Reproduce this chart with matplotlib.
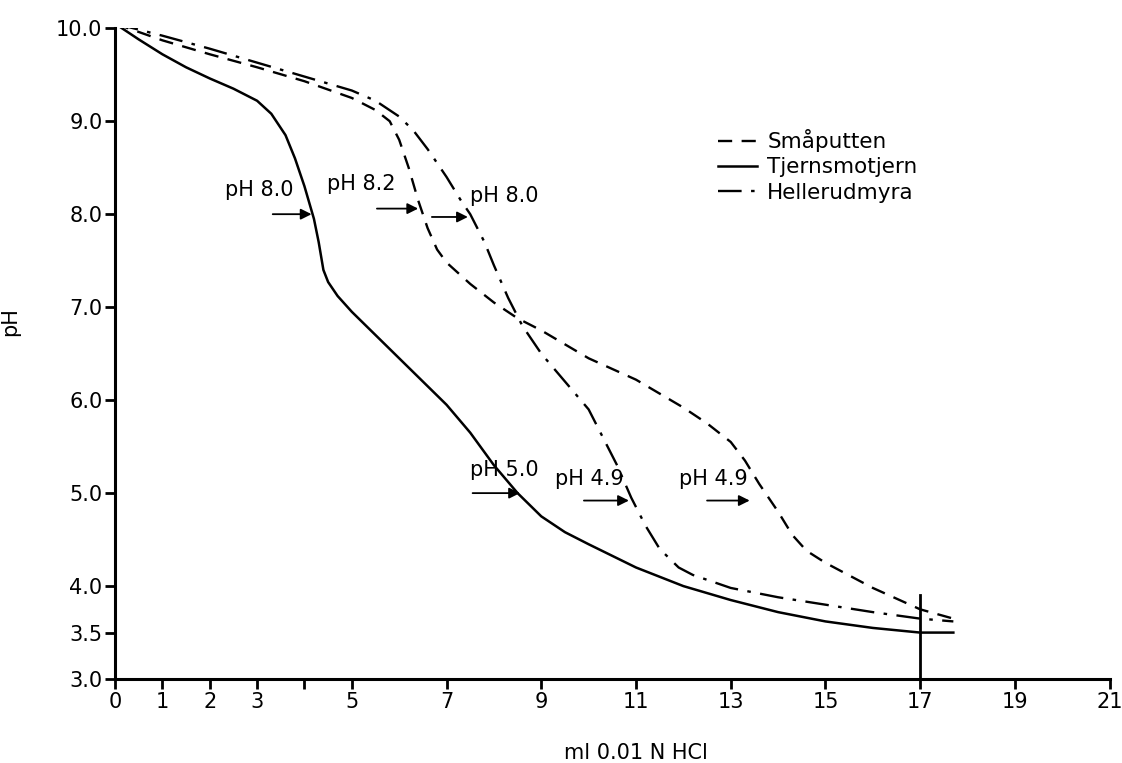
import matplotlib
matplotlib.use("Agg")
import matplotlib.pyplot as plt

plt.rcParams['font.family'] = ['DejaVu Sans']

# Titration curves (ml 0.01 N HCl vs pH)
tjern_ml = [0, 0.5, 1, 1.5, 2, 2.5, 3, 3.3, 3.6, 3.8, 4.0, 4.2, 4.3, 4.4, 4.5, 4.7, 5, 5.5,
            6, 6.5, 7, 7.5, 8, 8.5, 9, 9.5, 10, 11, 12, 13, 14, 15, 16, 17, 17.7]
tjern_ph = [10.05, 9.88, 9.72, 9.58, 9.46, 9.35, 9.22, 9.08, 8.85, 8.6, 8.3, 7.95, 7.7, 7.4,
            7.27, 7.12, 6.95, 6.7, 6.45, 6.2, 5.95, 5.65, 5.3, 5.0, 4.75, 4.58, 4.45, 4.2,
            4.0, 3.85, 3.72, 3.62, 3.55, 3.5, 3.5]

smaa_ml = [0, 1, 2, 3, 4, 5, 5.5, 5.8, 6.0, 6.2, 6.4, 6.6, 6.8, 7, 7.5, 8, 8.5, 9, 10, 11,
           12, 12.5, 13, 13.3, 13.6, 14, 14.3, 14.6, 15, 16, 17, 17.7]
smaa_ph = [10.05, 9.87, 9.72, 9.58, 9.43, 9.25, 9.12, 9.0, 8.8, 8.5, 8.15, 7.85, 7.62, 7.48,
           7.25, 7.05, 6.88, 6.75, 6.45, 6.22, 5.92, 5.75, 5.55, 5.35, 5.1, 4.8, 4.55, 4.38,
           4.25, 3.98, 3.75, 3.65]

hell_ml = [0, 1, 2, 3, 4, 5, 5.5, 6, 6.3, 6.6, 7, 7.3, 7.5, 7.8, 8, 8.3, 8.6, 9, 9.5, 10,
           10.3, 10.6, 10.9, 11.2, 11.5, 11.9, 12.2, 13, 14, 15, 16, 17, 17.7]
hell_ph = [10.05, 9.92, 9.78, 9.63, 9.48, 9.33, 9.22, 9.05, 8.9, 8.7, 8.4, 8.15, 8.0, 7.7,
           7.45, 7.1, 6.8, 6.5, 6.2, 5.9, 5.6, 5.3, 4.95, 4.65, 4.4, 4.2, 4.12, 3.98, 3.88,
           3.8, 3.72, 3.65, 3.62]

# endpoint marker at 17 ml
endpoint_ml = 17
endpoint_ph = [3.0, 3.9]

# (label, text x, text y, arrow tail x, arrow head x, arrow y)
notes = [
    ("pH 8.0", 2.32, 8.26, 3.33, 4.15, 8.0),
    ("pH 8.2", 4.47, 8.33, 5.53, 6.4, 8.06),
    ("pH 8.0", 7.49, 8.2, 6.69, 7.45, 7.97),
    ("pH 5.0", 7.5, 5.25, 7.55, 8.55, 5.0),
    ("pH 4.9", 9.3, 5.15, 9.9, 10.85, 4.92),
    ("pH 4.9", 11.9, 5.15, 12.5, 13.4, 4.92),
]

xticks = [0, 1, 2, 3, 4, 5, 7, 9, 11, 13, 15, 17, 19, 21]
xticklabels = ['0', '1', '2', '3', '', '5', '7', '9', '11', '13', '15', '17', '19', '21']
yticks = [3.0, 3.5, 4.0, 5.0, 6.0, 7.0, 8.0, 9.0, 10.0]

fig = plt.figure(figsize=(11.22, 7.63), dpi=100)
ax = fig.add_axes([0.1025, 0.11, 0.8865, 0.853])

ax.plot(smaa_ml, smaa_ph, color='black', lw=1.7, dashes=(6, 4), label='Småputten')
ax.plot(tjern_ml, tjern_ph, color='black', lw=1.8, label='Tjernsmotjern')
ax.plot(hell_ml, hell_ph, color='black', lw=1.7, dashes=(10, 4, 1.5, 4), label='Hellerudmyra')
ax.plot([endpoint_ml, endpoint_ml], endpoint_ph, color='black', lw=2)

for txt, tx, ty, x0, x1, ay in notes:
    ax.text(tx, ty, txt, fontsize=15, va='center')
    ax.annotate('', xy=(x1, ay), xytext=(x0, ay),
                arrowprops=dict(arrowstyle='-|>', color='black', lw=1.3,
                                mutation_scale=16, shrinkA=0, shrinkB=0))

ax.set_xlim(0, 21)
ax.set_ylim(3.0, 10.0)
ax.set_xticks(xticks)
ax.set_xticklabels(xticklabels)
ax.set_yticks(yticks)
ax.set_yticklabels([f'{v:.1f}' for v in yticks])
ax.tick_params(axis='both', labelsize=15, length=7, width=2, direction='out', pad=2)
for side in ['top', 'right']:
    ax.spines[side].set_visible(False)
for side in ['left', 'bottom']:
    ax.spines[side].set_linewidth(2.2)

ax.set_xlabel('ml 0.01 N HCl', fontsize=15)
ax.xaxis.set_label_coords(11 / 21, -0.098)
ax.set_ylabel('pH', fontsize=15)
ax.yaxis.set_label_coords(-0.095, 0.55)

ax.legend(loc='upper left', bbox_to_anchor=(0.606, 0.845), frameon=False, fontsize=15.5,
          handlelength=1.8, handletextpad=0.5, labelspacing=0.25, borderaxespad=0,
          borderpad=0)

fig.savefig('out.png', dpi=100)
